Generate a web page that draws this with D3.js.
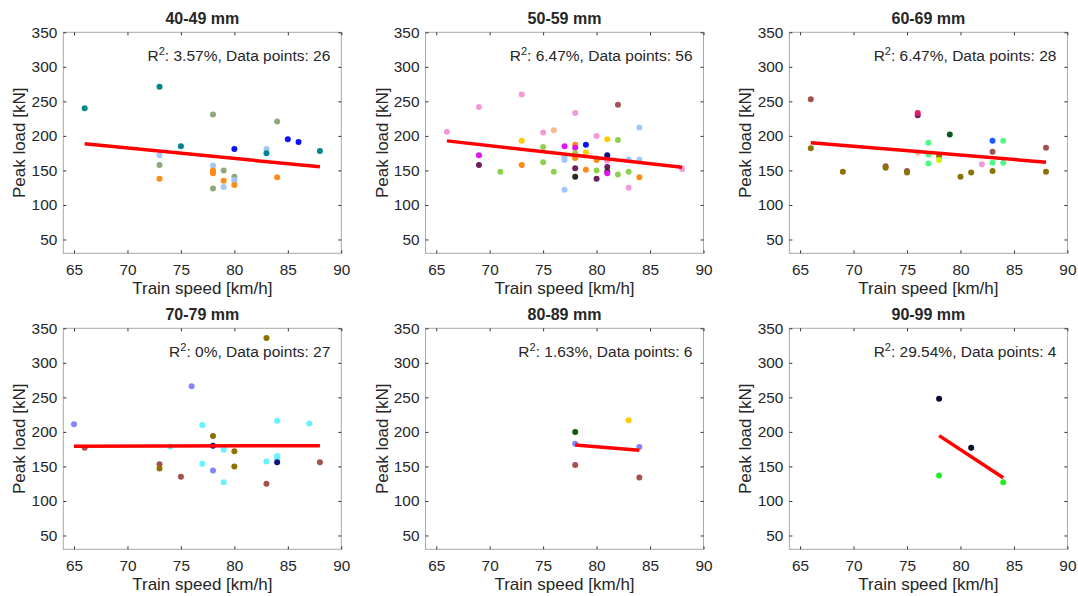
<!DOCTYPE html>
<html>
<head>
<meta charset="utf-8">
<script src="https://cdn.jsdelivr.net/npm/d3@7"></script>
<style>
  body { margin: 0; background: #fff; }
  text { font-family: "Liberation Sans", Arial, sans-serif; fill: #262626; }
</style>
</head>
<body>
<div id="chart-area"></div>
<script>
// panel labels
let panelTitles = ["40-49 mm", "50-59 mm", "60-69 mm", "70-79 mm", "80-89 mm", "90-99 mm"];
let r2Labels = ["3.57%", "6.47%", "6.47%", "0%", "1.63%", "29.54%"];
let pointCounts = [26, 56, 28, 27, 6, 4];

// axis ticks
let xTicks = [65, 70, 75, 80, 85, 90];
let yTicks = [50, 100, 150, 200, 250, 300, 350];

// 40-49 mm
let speed1 = [66, 73, 78, 84, 75, 80, 85, 86, 88, 83, 83, 73, 73, 73, 78, 78, 78, 78, 79, 79, 79, 80, 80, 80, 80, 84];
let load1 = [240, 271, 231, 221, 185, 181, 195, 191, 178, 181, 175, 172, 158, 138, 157, 150, 146, 124, 150, 135, 126, 141, 136, 134, 129, 140];
let group1 = ["teal", "teal", "sage", "sage", "teal", "blue", "blue", "blue", "teal", "sky", "teal", "sky", "sage", "orange", "sky", "orange", "orange", "sage", "sage", "orange", "sky", "sage", "sky", "sky", "orange", "orange"];

// 50-59 mm
let speed2 = [66, 69, 73, 78, 82, 84, 75, 76, 80, 73, 81, 82, 75, 77, 78, 78, 79, 79, 78, 69, 69, 71, 73, 75, 76, 77, 77, 77, 78, 78, 78, 79, 80, 80, 80, 80, 81, 81, 81, 81, 81, 82, 83, 83, 83, 84, 84, 88];
let load2 = [206, 242, 260, 233, 245, 212, 205, 208, 200, 193, 195, 194, 184, 185, 187, 183, 187, 176, 175, 172, 158, 148, 158, 162, 148, 169, 165, 122, 168, 153, 141, 151, 167, 165, 150, 138, 172, 164, 155, 148, 146, 144, 166, 148, 125, 166, 140, 152];
let group2 = ["pink", "pink", "pink", "pink", "brown", "sky", "pink", "peach", "pink", "gold", "gold", "lime", "lime", "magenta", "orange", "magenta", "blue", "gold", "lime", "magenta", "plum", "lime", "orange", "lime", "lime", "sky", "sky", "sky", "orange", "plum", "black", "orange", "magenta", "orange", "lime", "plum", "navy", "pink", "plum", "black", "magenta", "lime", "sky", "lime", "pink", "sky", "orange", "pink"];

// 60-69 mm
let speed3 = [66, 66, 69, 73, 73, 75, 75, 76, 76, 76, 77, 77, 77, 78, 78, 79, 80, 81, 82, 83, 83, 83, 83, 84, 84, 88, 88];
let load3 = [253, 182, 148, 156, 154, 149, 147, 230, 233, 176, 190, 173, 160, 171, 165, 202, 141, 147, 159, 193, 177, 161, 149, 193, 161, 183, 148];
let group3 = ["brown", "olive", "olive", "brown", "olive", "brown", "olive", "plum", "crimson", "peach", "mint", "mint", "mint", "olive", "chartreuse", "forest", "olive", "olive", "pink", "royal", "brown", "mint", "olive", "mint", "mint", "brown", "olive"];

// 70-79 mm
let speed4 = [65, 66, 83, 76, 77, 84, 87, 78, 74, 78, 79, 80, 73, 73, 75, 77, 78, 79, 80, 83, 83, 84, 84, 84, 88];
let load4 = [211, 177, 336, 266, 210, 216, 212, 194, 179, 180, 174, 172, 153, 147, 135, 154, 144, 127, 150, 157, 125, 165, 162, 156, 156];
let group4 = ["violet", "brown", "olive", "violet", "cyan", "cyan", "cyan", "olive", "cyan", "navy", "cyan", "olive", "brown", "olive", "brown", "cyan", "violet", "cyan", "olive", "cyan", "brown", "cyan", "cyan", "navy", "brown"];

// 80-89 mm
let speed5 = [78, 78, 78, 83, 84, 84];
let load5 = [200, 183, 152, 217, 178, 134];
let group5 = ["darkgreen", "violet", "brown", "gold", "violet", "brown"];

// 90-99 mm
let speed6 = [78, 81, 78, 84];
let load6 = [248, 177, 137, 127];
let group6 = ["midnight", "midnight", "green", "green"];

// linear fits: [speed start, load start, speed end, load end]
let fit1 = [66, 188.5, 88, 155.2];
let fit2 = [66, 192.8, 88, 154.7];
let fit3 = [66, 189.9, 88, 162];
let fit4 = [65, 179.1, 88, 180.1];
let fit5 = [78, 181.1, 84, 173.4];
let fit6 = [78, 194.6, 84, 133.7];

let palette = {
	teal: "#00868f", sage: "#8fa87a", blue: "#0a14f0", sky: "#a3c6fb", orange: "#ff8a14",
	pink: "#f29ad8", brown: "#a4524f", peach: "#f9b98c", gold: "#ffcc00", lime: "#8fd14f",
	magenta: "#e014f0", plum: "#6e1f5e", black: "#2a2a18", navy: "#0c1480",
	olive: "#8a7300", crimson: "#e8196b", mint: "#52f884", chartreuse: "#d8f000",
	forest: "#0b5c1b", royal: "#1f5aff", violet: "#8484ff", cyan: "#62f4ff",
	darkgreen: "#0a5a0a", midnight: "#0a0a35", green: "#22ee22"
};

let speeds = [speed1, speed2, speed3, speed4, speed5, speed6];
let loads = [load1, load2, load3, load4, load5, load6];
let groups = [group1, group2, group3, group4, group5, group6];
let fits = [fit1, fit2, fit3, fit4, fit5, fit6];

// layout
let width = 278, height = 221;
let lefts = [63.3, 425.5, 789.4];
let tops = [32.3, 328.3];

let svg = d3.select("#chart-area")
	.append("svg")
	.attr("width", 1078)
	.attr("height", 596);

let x = d3.scaleLinear().domain([64, 90]).range([0, width]);
let y = d3.scaleLinear().domain([30, 350]).range([height, 0]);

panelTitles.forEach(function(title, i) {
	let g = svg.append("g")
		.attr("transform", "translate(" + lefts[i % 3] + "," + tops[Math.floor(i / 3)] + ")");

	// box
	g.append("rect")
		.attr("width", width).attr("height", height)
		.attr("fill", "none").attr("stroke", "#a8a8a8").attr("stroke-width", 1);

	// axes with inward ticks
	let bottom = g.append("g").attr("transform", "translate(0," + height + ")")
		.call(d3.axisBottom(x).tickValues(xTicks).tickSize(-3).tickPadding(10.5));
	let top = g.append("g")
		.call(d3.axisTop(x).tickValues(xTicks).tickSize(-3).tickFormat(""));
	let left = g.append("g")
		.call(d3.axisLeft(y).tickValues(yTicks).tickSize(-3).tickPadding(6));
	let right = g.append("g").attr("transform", "translate(" + width + ",0)")
		.call(d3.axisRight(y).tickValues(yTicks).tickSize(-3).tickFormat(""));

	[bottom, top, left, right].forEach(function(ax) {
		ax.select(".domain").remove();
		ax.selectAll("line").attr("stroke", "#333");
		ax.selectAll("text")
			.style("font-size", "15.4px")
			.attr("fill", "#262626")
			.style("font-family", "'Liberation Sans', Arial, sans-serif");
	});

	// points
	let pts = speeds[i].map(function(s, k) { return {speed: s, load: loads[i][k], group: groups[i][k]}; });
	g.selectAll("circle")
		.data(pts)
		.enter().append("circle")
		.attr("cx", d => x(d.speed))
		.attr("cy", d => y(d.load))
		.attr("r", 3)
		.attr("fill", d => palette[d.group]);

	// fit line
	let f = fits[i];
	g.append("line")
		.attr("x1", x(f[0])).attr("y1", y(f[1]))
		.attr("x2", x(f[2])).attr("y2", y(f[3]))
		.attr("stroke", "#ff0000")
		.attr("stroke-width", 3.5);

	// title
	g.append("text")
		.attr("x", width / 2)
		.attr("y", -8.3)
		.attr("text-anchor", "middle")
		.style("font-size", "16px")
		.style("font-weight", "bold")
		.text(title);

	// R2 annotation
	let ann = g.append("text")
		.attr("x", width - 11)
		.attr("y", 28.3)
		.attr("text-anchor", "end")
		.style("font-size", "15.5px");
	ann.append("tspan").text("R");
	ann.append("tspan").attr("dy", -6).style("font-size", "11px").text("2");
	ann.append("tspan").attr("dy", 6).text(": " + r2Labels[i] + ", Data points: " + pointCounts[i]);

	// axis labels
	g.append("text")
		.attr("x", width / 2)
		.attr("y", height + 40.6)
		.attr("text-anchor", "middle")
		.style("font-size", "17px")
		.text("Train speed [km/h]");

	g.append("text")
		.attr("transform", "translate(-38," + (height / 2) + ") rotate(-90)")
		.attr("text-anchor", "middle")
		.style("font-size", "17px")
		.text("Peak load [kN]");
});
</script>
</body>
</html>
